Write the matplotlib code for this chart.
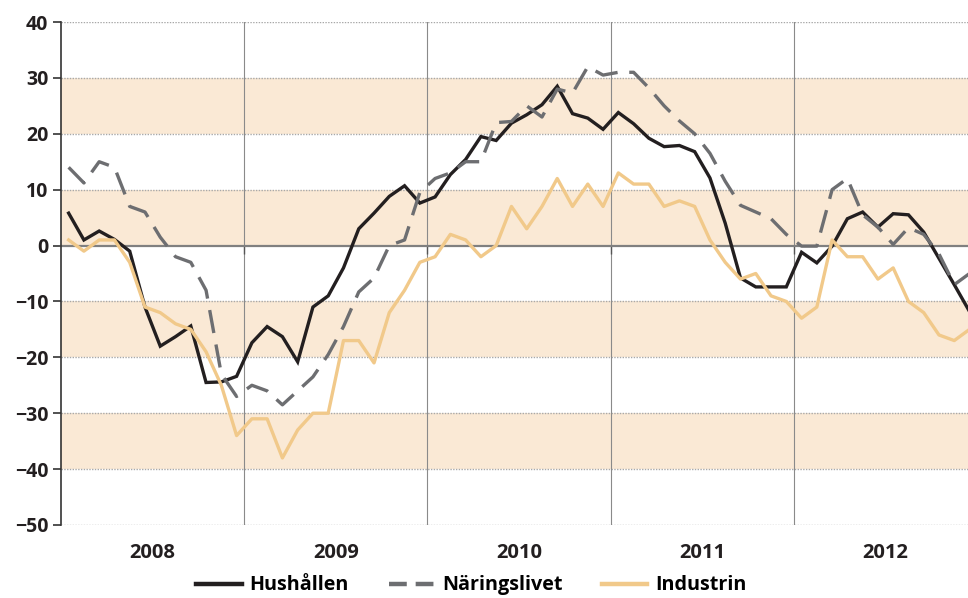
import matplotlib
matplotlib.use("Agg")
import matplotlib.pyplot as plt
from matplotlib.lines import Line2D

# Monthly data, Jan 2008 - Dec 2012
years = ["2008", "2009", "2010", "2011", "2012"]

hushallen = [5.8, 1.0, 2.6, 1.1, -1.0, -11.0, -18.0, -16.3, -14.4, -24.5, -24.4, -23.4,
             -17.4, -14.5, -16.3, -20.8, -11.0, -9.0, -4.0, 3.0, 5.8, 8.8, 10.7, 7.6,
             8.7, 12.7, 15.4, 19.5, 18.8, 21.9, 23.4, 25.2, 28.5, 23.6, 22.8, 20.8,
             23.8, 21.8, 19.2, 17.7, 17.9, 16.8, 12.1, 4.0, -5.8, -7.4, -7.4, -7.4,
             -1.2, -3.1, -0.1, 4.8, 6.0, 3.3, 5.7, 5.5, 2.4, -2.3, -7.0, -11.8]

naringslivet = [14.0, 11.2, 15.0, 14.0, 7.0, 6.0, 1.5, -2.0, -3.0, -8.0, -23.0, -27.0,
                -25.0, -26.0, -28.5, -26.0, -23.5, -19.5, -14.5, -8.3, -5.8, 0.0, 1.0, 9.5,
                12.0, 13.0, 15.0, 15.0, 22.0, 22.2, 25.0, 23.0, 28.0, 27.3, 32.0, 30.5,
                31.0, 31.0, 28.2, 25.0, 22.3, 20.0, 16.5, 11.5, 7.2, 6.0, 4.8, 2.0,
                -0.1, -0.1, 10.0, 12.0, 5.5, 3.3, 0.2, 3.2, 2.0, -1.5, -7.0, -5.0]

industrin = [1, -1, 1, 1, -3, -11, -12, -14, -15, -19, -25, -34,
             -31, -31, -38, -33, -30, -30, -17, -17, -21, -12, -8, -3,
             -2, 2, 1, -2, 0, 7, 3, 7, 12, 7, 11, 7,
             13, 11, 11, 7, 8, 7, 1, -3, -6, -5, -9, -10,
             -13, -11, 1, -2, -2, -6, -4, -10, -12, -16, -17, -15]

BLACK = "#231f20"
GREY = "#6d6e71"
YELLOW = "#f1c98a"
BAND = "#fae9d5"

plt.rcParams["font.family"] = ["Open Sans", "DejaVu Sans"]
plt.rcParams["font.weight"] = "bold"

fig = plt.figure(figsize=(9.68, 5.98), dpi=100)
ax = fig.add_axes([61 / 968, 1 - 525 / 598, 1 - 61 / 968, (525 - 22) / 598])

x = [i + 0.5 for i in range(len(hushallen))]

# shaded bands and grid
for lo in [20, 0, -20, -40]:
    ax.axhspan(lo, lo + 10, color=BAND, lw=0, zorder=0)
for yv in range(-50, 41, 10):
    if yv != 0:
        ax.axhline(yv, color="#a8a8a8", lw=1.0, ls=(0, (1, 1)), zorder=1)
for k in range(1, len(years)):
    ax.axvline(12 * k, color="#8a8a8a", lw=0.8, zorder=1)

ax.plot(x, hushallen, color=BLACK, lw=2.4, zorder=3, solid_joinstyle="miter")
ax.plot(x, naringslivet, color=GREY, lw=2.4, dashes=(7, 3.5), zorder=4)
ax.plot(x, industrin, color=YELLOW, lw=2.4, zorder=5)

ax.set_xlim(0, 59.4)
ax.set_ylim(-50, 40)

# axes styling
for s in ["top", "right"]:
    ax.spines[s].set_visible(False)
ax.spines["left"].set_color("#333333")
ax.spines["left"].set_linewidth(1.2)
ax.spines["bottom"].set_position(("data", 0))
ax.spines["bottom"].set_color("#808080")
ax.spines["bottom"].set_linewidth(1.6)
ax.spines["bottom"].set_zorder(2)

ax.set_yticks(range(-50, 41, 10))
ax.tick_params(axis="y", length=6, width=1.2, color="#333333", labelsize=14,
               labelcolor="#231f20", pad=3)
ax.set_xticks([12 * k for k in range(1, len(years))])
ax.set_xticklabels([])
ax.tick_params(axis="x", length=6, width=1, color="#555555", direction="out")

# year labels below the plot
sec = ax.secondary_xaxis("bottom")
sec.set_xticks([12 * k + 6 for k in range(len(years))])
sec.set_xticklabels(years)
sec.tick_params(length=0, labelsize=14.5, pad=13, labelcolor="#231f20")
sec.spines["bottom"].set_visible(False)

handles = [
    Line2D([], [], color=BLACK, lw=3.2),
    Line2D([], [], color=GREY, lw=3.2, dashes=(4, 2)),
    Line2D([], [], color=YELLOW, lw=3.2),
]
fig.legend(handles, ["Hushållen", "Näringslivet", "Industrin"], loc="center",
           bbox_to_anchor=(0.487, 0.021), ncol=3, frameon=False, fontsize=14.2,
           handlelength=2.3, columnspacing=2.0, handletextpad=0.4)

fig.savefig("out.png", dpi=100)
